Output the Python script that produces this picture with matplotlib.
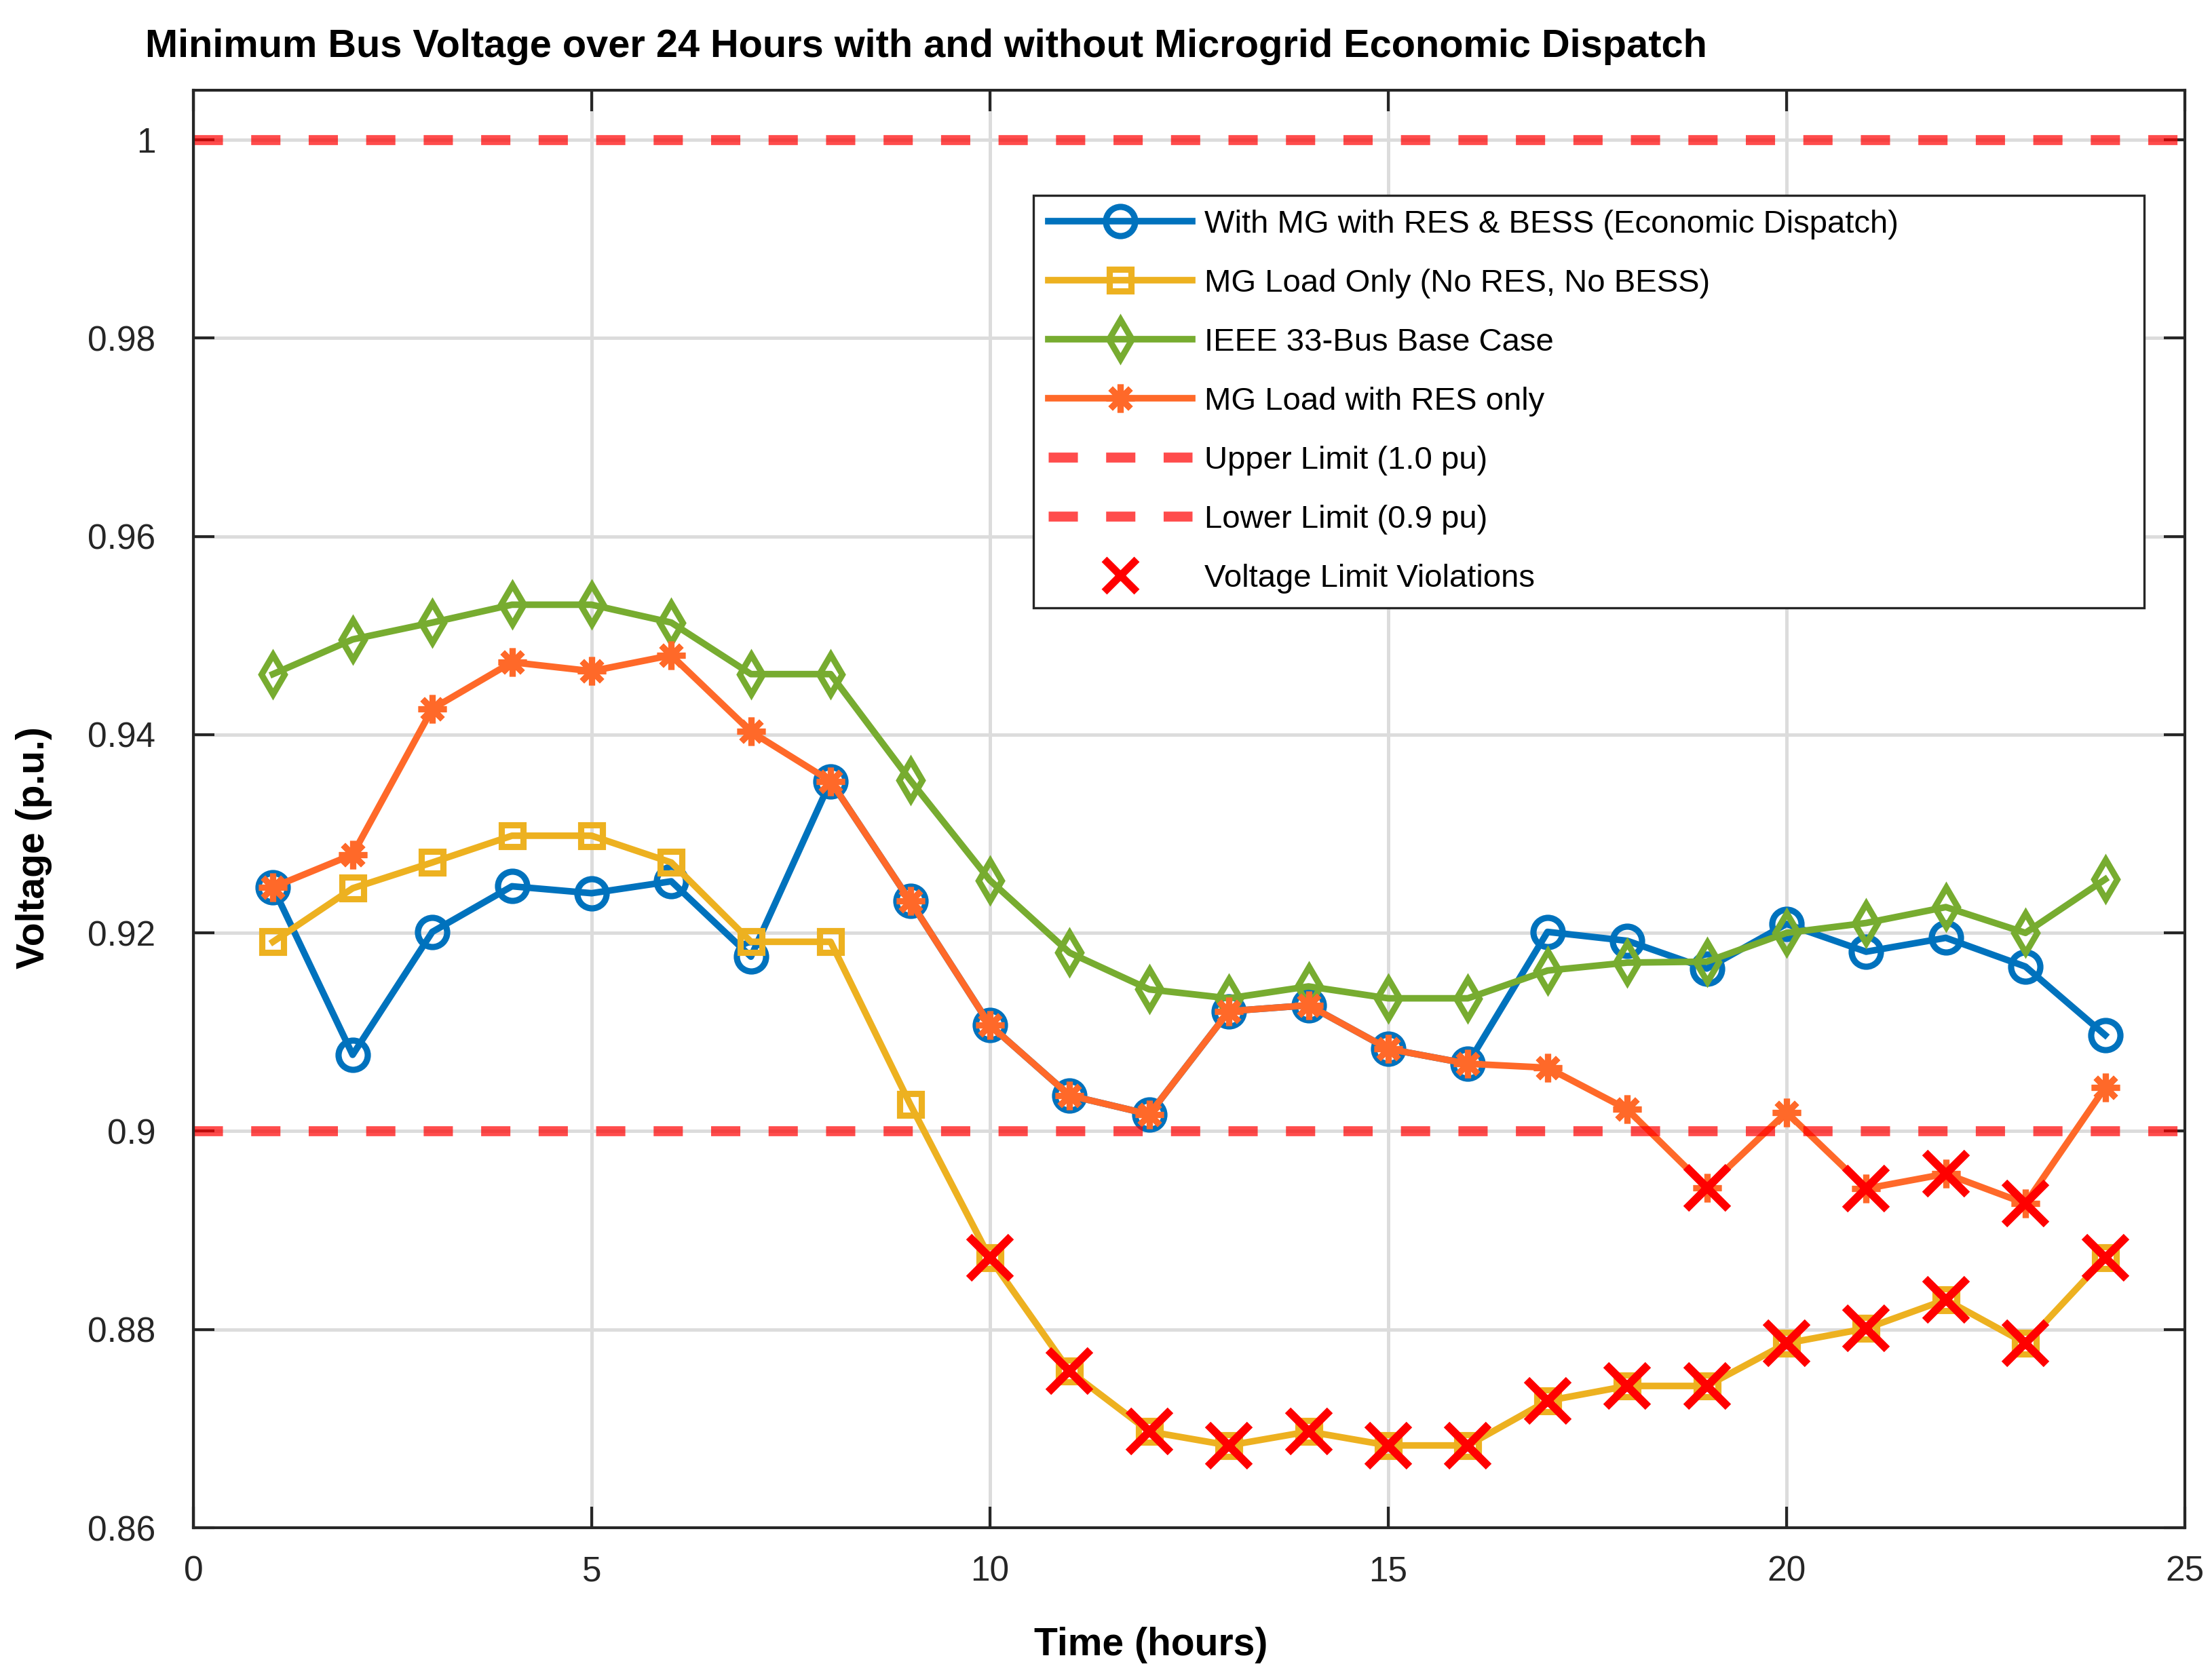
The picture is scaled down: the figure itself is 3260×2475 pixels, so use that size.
import numpy as np
import matplotlib
matplotlib.use("Agg")
import matplotlib.pyplot as plt
from matplotlib.lines import Line2D

plt.rcParams['font.family'] = ['Liberation Sans', 'DejaVu Sans']

hours = np.arange(1, 25)

v_mg_ed = [0.9246, 0.9077, 0.9201, 0.9247, 0.9240, 0.9252, 0.9176, 0.9353,
           0.9232, 0.9107, 0.9036, 0.9017, 0.9121, 0.9127, 0.9083, 0.9068,
           0.9201, 0.9192, 0.9164, 0.9209, 0.9181, 0.9195, 0.9166, 0.9097]
v_load_only = [0.9191, 0.9245, 0.9271, 0.9298, 0.9298, 0.9271, 0.9191, 0.9191,
               0.9027, 0.8872, 0.8758, 0.8697, 0.8683, 0.8697, 0.8683, 0.8683,
               0.8728, 0.8743, 0.8743, 0.8786, 0.8801, 0.8830, 0.8786, 0.8872]
v_base = [0.9461, 0.9496, 0.9513, 0.9531, 0.9531, 0.9513, 0.9461, 0.9461,
          0.9354, 0.9253, 0.9180, 0.9143, 0.9134, 0.9146, 0.9134, 0.9134,
          0.9162, 0.9170, 0.9171, 0.9200, 0.9210, 0.9226, 0.9200, 0.9254]
v_res_only = [0.9246, 0.9279, 0.9426, 0.9473, 0.9464, 0.9480, 0.9403, 0.9353,
              0.9232, 0.9107, 0.9036, 0.9017, 0.9121, 0.9127, 0.9083, 0.9068,
              0.9064, 0.9022, 0.8943, 0.9019, 0.8942, 0.8957, 0.8927, 0.9044]

upper_limit = 1.0
lower_limit = 0.9

series_labels = ['With MG with RES & BESS (Economic Dispatch)',
                 'MG Load Only (No RES, No BESS)',
                 'IEEE 33-Bus Base Case',
                 'MG Load with RES only',
                 'Upper Limit (1.0 pu)',
                 'Lower Limit (0.9 pu)',
                 'Voltage Limit Violations']
title_text = 'Minimum Bus Voltage over 24 Hours with and without Microgrid Economic Dispatch'
x_ticks = [0, 5, 10, 15, 20, 25]
y_ticks = [0.86, 0.88, 0.90, 0.92, 0.94, 0.96, 0.98, 1.0]

c_blue = '#0072BD'
c_yellow = '#EDB120'
c_green = '#77AC30'
c_orange = '#FF6929'
c_ax = '#262626'

fig = plt.figure(figsize=(16.3, 12.375), dpi=200)
ax = fig.add_axes([0.0874, 0.0901, 0.9003, 0.8562])

lw = 3.5
mew = 3.3
h1, = ax.plot(hours, v_mg_ed, '-', color=c_blue, lw=lw, marker='o', ms=15.5,
              mfc='none', mew=mew, label=series_labels[0])
h2, = ax.plot(hours, v_load_only, '-', color=c_yellow, lw=lw, marker='s', ms=11.8,
              mfc='none', mew=mew, label=series_labels[1])
h3, = ax.plot(hours, v_base, '-', color=c_green, lw=lw, marker='d', ms=14.8,
              mfc='none', mew=mew, label=series_labels[2])
h4, = ax.plot(hours, v_res_only, '-', color=c_orange, lw=lw, marker=(8, 2, 0), ms=15,
              mew=mew, label=series_labels[3])

dash = (0, (15.5 / 5.3, 15.0 / 5.3))
h5 = ax.axhline(upper_limit, color='red', alpha=0.7, lw=5.3, ls=dash, label=series_labels[4])
h6 = ax.axhline(lower_limit, color='red', alpha=0.7, lw=5.3, ls=dash, label=series_labels[5])

lo = np.array(v_load_only)
ro = np.array(v_res_only)
vx = np.concatenate([hours[lo < lower_limit], hours[ro < lower_limit]])
vy = np.concatenate([lo[lo < lower_limit], ro[ro < lower_limit]])
ax.plot(vx, vy, ls='none', marker='x', color='red', ms=22, mew=4.3, zorder=5)
h7 = Line2D([], [], ls='none', marker='x', color='red', ms=17, mew=4.0,
            label=series_labels[6])

ax.set_xlim(0, 25)
ax.set_ylim(0.86, 1.005)
ax.set_xticks(x_ticks)
ax.set_yticks(y_ticks)
ax.set_xticklabels([f'{t:g}' for t in x_ticks])
ax.set_yticklabels([f'{t:g}' for t in y_ticks])

ax.grid(True, color='#dcdcdc', lw=1.8)
ax.set_axisbelow(True)
for s in ax.spines.values():
    s.set_color(c_ax)
    s.set_linewidth(1.5)
ax.tick_params(axis='both', direction='in', length=11, width=1.5, colors=c_ax,
               labelsize=18.5, top=True, right=True)
ax.tick_params(axis='x', pad=14.4)
ax.tick_params(axis='y', pad=20)

ax.set_xlabel('Time (hours)', fontsize=20.5, fontweight='bold')
ax.xaxis.set_label_coords(0.481, -0.0887)
ax.xaxis.label.set_va('baseline')
ax.set_ylabel('Voltage (p.u.)', fontsize=20.5, fontweight='bold')
ax.yaxis.set_label_coords(-0.0750, 0.473)
ax.yaxis.label.set_va('baseline')

fig.text(0.0656, 0.966, title_text, fontsize=20.8, fontweight='bold',
         ha='left', va='baseline')

leg = ax.legend(handles=[h1, h2, h3, h4, h5, h6, h7], loc='upper left',
                bbox_to_anchor=(0.422, 0.633, 0.5576, 0.294), mode='expand',
                fontsize=17, handlelength=4.5, handletextpad=0.38,
                labelspacing=0.91, borderpad=0.45, borderaxespad=0,
                numpoints=1, fancybox=False, framealpha=1, edgecolor=c_ax)
leg.get_frame().set_linewidth(1.2)

fig.savefig('out.png', dpi=200)
